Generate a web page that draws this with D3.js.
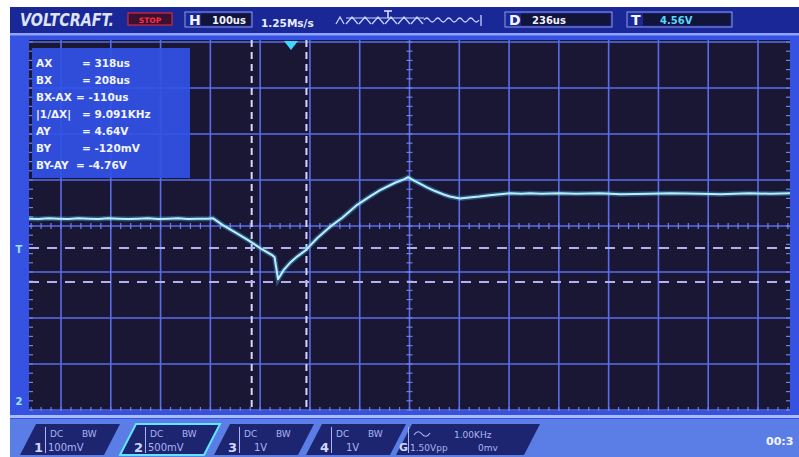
<!DOCTYPE html>
<html lang="en">
  <head>
    <meta charset="utf-8">
    <script src="https://cdn.jsdelivr.net/npm/d3@7"></script>
    <style>
      body { margin:0; background:#fff; }
      svg { display:block; font-family:"DejaVu Sans", Arial, sans-serif; }
    </style>
  </head>
  <body>
    <svg id="scope"></svg>
  </body>
  <script>
    var width = 799;
    var height = 457;

    // trace: time in us, volts on channel 2
    var traceTime = [-240,-220,-200,-180,-160,-140,-120,-100,-80,-60,-40,-20,0,20,40,60,80,100,120,130,
      150,175,200,225,250,254,261,272,285,300,315,340,365,390,420,445,466,496,515,522,535,546,560,576,
      595,606,626,645,665,686,707,727,750,767,790,827,860,907,950,1008,1050,1108,1150,1208,1250,1290];
    var traceVolt = [1.98,1.975,1.985,1.98,1.975,1.985,1.98,1.975,1.985,1.98,1.975,1.98,1.985,1.975,1.98,1.985,1.975,1.98,1.98,1.985,
      1.91,1.83,1.75,1.66,1.58,1.56,1.32,1.42,1.50,1.57,1.63,1.77,1.89,1.99,2.13,2.22,2.29,2.37,2.41,2.43,2.39,2.36,2.32,2.28,
      2.24,2.22,2.20,2.21,2.22,2.235,2.245,2.255,2.25,2.255,2.25,2.255,2.25,2.255,2.245,2.25,2.255,2.25,2.245,2.255,2.25,2.255];

    var cursorTimes = [208, 318];
    var cursorVolts = [1.66, 1.29];
    var triggerTime = 287;
    var triggerLevel = 1.65;

    var infoNames = ["AX", "BX", "BX-AX", "|1/ΔX|", "AY", "BY", "BY-AY"];
    var infoValues = ["= 318us", "= 208us", "= -110us", "= 9.091KHz", "= 4.64V", "= -120mV", "= -4.76V"];

    var chanNums = ["1", "2", "3", "4"];
    var chanScales = ["100mV", "500mV", "1V", "1V"];

    var timeDivs = d3.range(-175, 1226, 100);
    var voltDivs = d3.range(-0.1, 3.95, 0.5);

    var svg = d3.select("#scope").attr("width", width).attr("height", height);

    var x = d3.scaleLinear().domain([-175, 1225]).range([61, 758]);
    var y = d3.scaleLinear().domain([-0.1, 3.9]).range([410, 42]);
    var pL = 29, pR = 790, pT = 40, pB = 411;

    // outer screen frame
    svg.append("rect").attr("x", 10).attr("y", 7).attr("width", width - 10).attr("height", height - 7).attr("fill", "#3552e2");
    // top bar
    svg.append("rect").attr("x", 10).attr("y", 7).attr("width", width - 10).attr("height", 28).attr("fill", "#1a2797");
    svg.append("rect").attr("x", 10).attr("y", 33).attr("width", width - 10).attr("height", 2.5).attr("fill", "#8ea2ff");
    // bottom bar
    svg.append("rect").attr("x", 10).attr("y", 419).attr("width", width - 10).attr("height", 38).attr("fill", "#5b7ee6");
    svg.append("rect").attr("x", 10).attr("y", 415).attr("width", width - 10).attr("height", 3).attr("fill", "#a9bcff");

    // plot area
    svg.append("rect").attr("x", pL).attr("y", pT).attr("width", pR - pL).attr("height", pB - pT).attr("fill", "#1a1735");

    svg.append("clipPath").attr("id", "clip").append("rect")
      .attr("x", pL).attr("y", pT).attr("width", pR - pL).attr("height", pB - pT);
    var plot = svg.append("g").attr("clip-path", "url(#clip)");

    // graticule
    plot.selectAll("line.vg").data(timeDivs).enter().append("line")
      .attr("x1", function(d){ return x(d); }).attr("x2", function(d){ return x(d); })
      .attr("y1", pT).attr("y2", pB)
      .attr("stroke", "#5a6ce8").attr("stroke-width", 1.6);
    plot.selectAll("line.hg").data(voltDivs).enter().append("line")
      .attr("y1", function(d){ return y(d); }).attr("y2", function(d){ return y(d); })
      .attr("x1", pL).attr("x2", pR)
      .attr("stroke", "#5a6ce8").attr("stroke-width", 1.6);

    // minor ticks on centre axes and edges
    var xCenter = x(525), yCenter = y(1.9);
    var minorT = d3.range(-235, 1290, 20);
    var minorV = d3.range(-0.1, 3.95, 0.1);
    plot.selectAll("line.tc").data(minorT).enter().append("line")
      .attr("x1", function(d){ return x(d); }).attr("x2", function(d){ return x(d); })
      .attr("y1", yCenter - 3).attr("y2", yCenter + 3).attr("stroke", "#6f7fee").attr("stroke-width", 1.2);
    plot.selectAll("line.tb").data(minorT).enter().append("line")
      .attr("x1", function(d){ return x(d); }).attr("x2", function(d){ return x(d); })
      .attr("y1", pB - 4).attr("y2", pB).attr("stroke", "#6f7fee").attr("stroke-width", 1.2);
    plot.selectAll("line.vc").data(minorV).enter().append("line")
      .attr("y1", function(d){ return y(d); }).attr("y2", function(d){ return y(d); })
      .attr("x1", xCenter - 3).attr("x2", xCenter + 3).attr("stroke", "#6f7fee").attr("stroke-width", 1.2);
    plot.selectAll("line.vl").data(minorV).enter().append("line")
      .attr("y1", function(d){ return y(d); }).attr("y2", function(d){ return y(d); })
      .attr("x1", pL).attr("x2", pL + 4).attr("stroke", "#6f7fee").attr("stroke-width", 1.2);
    plot.selectAll("line.vr").data(minorV).enter().append("line")
      .attr("y1", function(d){ return y(d); }).attr("y2", function(d){ return y(d); })
      .attr("x1", pR - 4).attr("x2", pR).attr("stroke", "#6f7fee").attr("stroke-width", 1.2);

    // cursors
    plot.selectAll("line.cx").data(cursorTimes).enter().append("line")
      .attr("x1", function(d){ return x(d); }).attr("x2", function(d){ return x(d); })
      .attr("y1", pT).attr("y2", pB)
      .attr("stroke", "#d8d6ff").attr("stroke-width", 2).attr("stroke-dasharray", "7,5");
    plot.selectAll("line.cy").data(cursorVolts).enter().append("line")
      .attr("y1", function(d){ return y(d); }).attr("y2", function(d){ return y(d); })
      .attr("x1", pL).attr("x2", pR)
      .attr("stroke", "#b3b0f0").attr("stroke-width", 2).attr("stroke-dasharray", "10,8");

    // trace
    var line = d3.line().x(function(d){ return x(d[0]); }).y(function(d){ return y(d[1]); });
    var pts = d3.zip(traceTime, traceVolt);
    plot.append("path").datum(pts).attr("d", line).attr("fill", "none")
      .attr("stroke", "#4cc0ff").attr("stroke-opacity", 0.35).attr("stroke-width", 5);
    plot.append("path").datum(pts).attr("d", line).attr("fill", "none")
      .attr("stroke", "#b8f0ff").attr("stroke-width", 2).attr("stroke-linejoin", "round");

    // trigger position marker
    var tx = x(triggerTime);
    plot.append("path").attr("d", "M" + (tx - 7) + "," + (pT + 1) + "L" + (tx + 7) + "," + (pT + 1) + "L" + tx + "," + (pT + 10) + "Z")
      .attr("fill", "#3fd6ff");

    // cursor info box
    var info = svg.append("g");
    info.append("rect").attr("x", 32).attr("y", 48).attr("width", 158).attr("height", 130).attr("fill", "#3152e6").attr("opacity", 0.92);
    info.selectAll("text.n").data(infoNames).enter().append("text")
      .attr("x", 36).attr("y", function(d, i){ return 67 + i * 17; })
      .attr("fill", "#f2f4ff").attr("font-size", 10.5).attr("font-weight", "bold").text(function(d){ return d; });
    info.selectAll("text.v").data(infoValues).enter().append("text")
      .attr("x", function(d, i){ return (i == 2 || i == 6) ? 76 : 82; }).attr("y", function(d, i){ return 67 + i * 17; })
      .attr("fill", "#f2f4ff").attr("font-size", 10.5).attr("font-weight", "bold").text(function(d){ return d; });

    // left markers
    svg.append("text").attr("x", 19).attr("y", y(triggerLevel) + 4).attr("text-anchor", "middle")
      .attr("fill", "#9fe4ff").attr("font-size", 10).attr("font-weight", "bold").text("T");
    svg.append("text").attr("x", 19).attr("y", y(0) + 4).attr("text-anchor", "middle")
      .attr("fill", "#9fe4ff").attr("font-size", 10).attr("font-weight", "bold").text("2");

    // top bar
    var tb = svg.append("g");
    tb.append("text").attr("x", 20).attr("y", 26).attr("fill", "#dfe3f6").attr("font-size", 17)
      .attr("font-weight", "bold").attr("font-style", "italic").attr("font-family", "'DejaVu Sans Condensed', sans-serif")
      .attr("textLength", 94).attr("lengthAdjust", "spacingAndGlyphs").text("VOLTCRAFT.");
    tb.append("rect").attr("x", 128).attr("y", 13).attr("width", 44).attr("height", 12).attr("fill", "#3b1030").attr("stroke", "#d8283c").attr("stroke-width", 1.2);
    tb.append("text").attr("x", 150).attr("y", 22.5).attr("text-anchor", "middle").attr("fill", "#ff3040").attr("font-size", 7.5).attr("font-weight", "bold").text("STOP");

    var boxes = [
      {x: 185, w: 67, key: "H", val: "100us", col: "#f0f2ff"},
      {x: 505, w: 107, key: "D", val: "236us", col: "#f0f2ff"},
      {x: 627, w: 105, key: "T", val: "4.56V", col: "#57d8ff"}
    ];
    boxes.forEach(function(b){
      tb.append("rect").attr("x", b.x).attr("y", 12).attr("width", b.w).attr("height", 15).attr("fill", "#1a2797").attr("stroke", "#8d9be8").attr("stroke-width", 1);
      tb.append("rect").attr("x", b.x + 16).attr("y", 13.5).attr("width", b.w - 17.5).attr("height", 12).attr("fill", "#12143a");
      tb.append("text").attr("x", b.x + 4).attr("y", 25).attr("fill", "#f4f6ff").attr("font-size", 14).attr("font-weight", "bold").text(b.key);
      tb.append("text").attr("x", b.key == "T" ? b.x + 33 : b.x + 27).attr("y", 23.5).attr("fill", b.col).attr("font-size", 10).attr("font-weight", "bold").text(b.val);
    });
    tb.append("text").attr("x", 261).attr("y", 27).attr("fill", "#e8ecff").attr("font-size", 10.5).attr("font-weight", "bold").text("1.25Ms/s");

    // memory / trigger position icon
    var ic = "M336,24 L340,17 L344,24";
    for (var k = 0; k < 6; k++) {
      var sx = 346 + k * 13;
      ic += " M" + sx + ",24 L" + (sx + 6) + ",17 L" + (sx + 12) + ",24";
    }
    tb.append("path").attr("d", ic).attr("fill", "none").attr("stroke", "#c8d0ff").attr("stroke-width", 1.3);
    tb.append("line").attr("x1", 346).attr("x2", 424).attr("y1", 18).attr("y2", 18).attr("stroke", "#c8d0ff").attr("stroke-width", 1);
    var sine = "M424,20";
    for (var s = 0; s < 5; s++) {
      var bx = 424 + s * 11;
      sine += " Q" + (bx + 2.75) + ",16 " + (bx + 5.5) + ",20 Q" + (bx + 8.25) + ",24 " + (bx + 11) + ",20";
    }
    tb.append("path").attr("d", sine).attr("fill", "none").attr("stroke", "#c8d0ff").attr("stroke-width", 1.3);
    tb.append("line").attr("x1", 481).attr("x2", 481).attr("y1", 15).attr("y2", 26).attr("stroke", "#c8d0ff").attr("stroke-width", 1.3);
    tb.append("path").attr("d", "M384,11 L392,11 M388,11 L388,18").attr("stroke", "#e0e6ff").attr("stroke-width", 1.5);

    // bottom channel tabs
    var bb = svg.append("g");
    var tabX = [20, 120, 214, 306];
    chanNums.forEach(function(c, i){
      var x0 = tabX[i];
      var tw = 100;
      bb.append("path")
        .attr("d", "M" + x0 + ",455 L" + (x0 + 16) + ",424 L" + (x0 + tw) + ",424 L" + (x0 + tw - 16) + ",455 Z")
        .attr("fill", "#1d2470").attr("stroke", i == 1 ? "#5fe6ff" : "none").attr("stroke-width", 2);
      bb.append("text").attr("x", x0 + 14).attr("y", 452).attr("fill", "#cfd8ff").attr("font-size", 13).attr("font-weight", "bold").text(c);
      bb.append("rect").attr("x", x0 + 25).attr("y", 427).attr("width", 1).attr("height", 26).attr("fill", "#aab4ff");
      bb.append("text").attr("x", x0 + 30).attr("y", 437).attr("fill", "#aab6f2").attr("font-size", 9).text("DC");
      bb.append("text").attr("x", x0 + 62).attr("y", 437).attr("fill", "#aab6f2").attr("font-size", 9).text("BW");
      bb.append("text").attr("x", x0 + (chanScales[i].length > 2 ? 28 : 40)).attr("y", 451).attr("fill", "#aab6f2").attr("font-size", 10).text(chanScales[i]);
    });
    // generator tab
    bb.append("path").attr("d", "M396,455 L412,424 L540,424 L524,455 Z").attr("fill", "#1d2470");
    bb.append("text").attr("x", 399).attr("y", 451).attr("fill", "#cfd8ff").attr("font-size", 11).attr("font-weight", "bold").text("G");
    bb.append("rect").attr("x", 408).attr("y", 427).attr("width", 1).attr("height", 26).attr("fill", "#aab4ff");
    bb.append("path").attr("d", "M414,435 Q418,429 422,434 Q426,439 430,433").attr("fill", "none").attr("stroke", "#aab6f2").attr("stroke-width", 1.2);
    bb.append("text").attr("x", 454).attr("y", 438).attr("fill", "#aab6f2").attr("font-size", 9).text("1.00KHz");
    bb.append("text").attr("x", 410).attr("y", 451).attr("fill", "#aab6f2").attr("font-size", 9).text("1.50Vpp");
    bb.append("text").attr("x", 478).attr("y", 451).attr("fill", "#aab6f2").attr("font-size", 9).text("0mv");
    bb.append("text").attr("x", 766).attr("y", 445).attr("fill", "#f4f6ff").attr("font-size", 11).attr("font-weight", "bold").text("00:3");
  </script>
</html>
